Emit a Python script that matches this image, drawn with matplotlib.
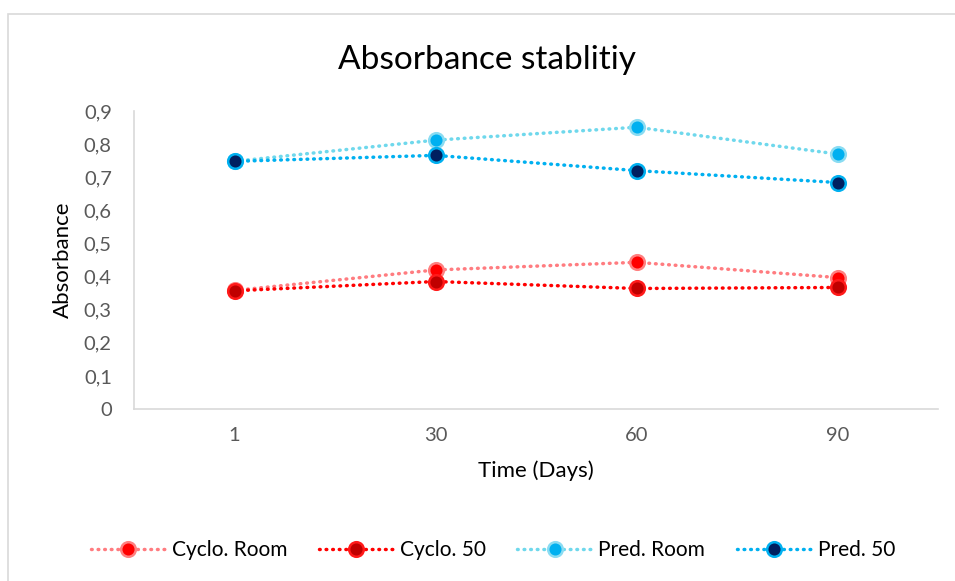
import matplotlib.pyplot as plt
from matplotlib.patches import Rectangle

plt.rcParams['font.family'] = ['Lato', 'DejaVu Sans']

days = ['1', '30', '60', '90']
cyclo_room = [0.358, 0.420, 0.443, 0.397]
cyclo_50 = [0.357, 0.385, 0.364, 0.367]
pred_room = [0.748, 0.812, 0.851, 0.770]
pred_50 = [0.748, 0.766, 0.720, 0.684]

series = [
    ('Cyclo. Room', cyclo_room, '#FF7C80', '#FF0000', '#FF8080'),
    ('Cyclo. 50', cyclo_50, '#FF0000', '#C00000', '#FF1A1A'),
    ('Pred. Room', pred_room, '#6FD8EC', '#00B0F0', '#8ADCF2'),
    ('Pred. 50', pred_50, '#00B0F0', '#002060', '#00B0F0'),
]

fig = plt.figure(figsize=(9.55, 5.81), dpi=100)
fig.patches.append(Rectangle((8 / 955, -0.1), 1.2, 1 - 14 / 581 + 0.1,
                             transform=fig.transFigure, fill=False,
                             edgecolor='#D9D9D9', linewidth=1.2))

ax = fig.add_axes([134 / 955, 1 - 409 / 581, (938 - 134) / 955, (409 - 111) / 581])
x = range(len(days))
for name, vals, lc, fc, ec in series:
    ax.plot(x, vals, linestyle=(0, (0.2, 1.7)), dash_capstyle='round',
            linewidth=2.5, color=lc, marker='o', markersize=10.5,
            markerfacecolor=fc, markeredgecolor=ec, markeredgewidth=1.8,
            label=name)

ax.set_xlim(-0.5, 3.5)
ax.set_ylim(0, 0.9)
ax.set_xticks(list(x))
ax.set_xticklabels(days)
ax.set_yticks([i / 10 for i in range(10)])
ax.set_yticklabels(['0'] + ['0,%d' % i for i in range(1, 10)])
ax.tick_params(length=0, labelsize=14.5, labelcolor='#595959')
ax.tick_params(axis='x', pad=13)
ax.tick_params(axis='y', pad=16)
for s in ['top', 'right']:
    ax.spines[s].set_visible(False)
ax.spines['left'].set_color('#D9D9D9')
ax.spines['bottom'].set_color('#D9D9D9')
ax.spines['left'].set_linewidth(1.2)
ax.spines['bottom'].set_linewidth(1.2)

ax.set_xlabel('Time (Days)', fontsize=16, labelpad=12)
ax.set_ylabel('Absorbance', fontsize=16, labelpad=8)
fig.text(487 / 955, 1 - 60 / 581, 'Absorbance stablitiy', fontsize=24,
         ha='center', va='center')

fig.legend(loc='center', bbox_to_anchor=(493 / 955, 1 - 550 / 581), ncol=4,
           frameon=False, fontsize=15, handlelength=3.6, columnspacing=1.5,
           handletextpad=0.3)

fig.savefig('out.png', dpi=100)
